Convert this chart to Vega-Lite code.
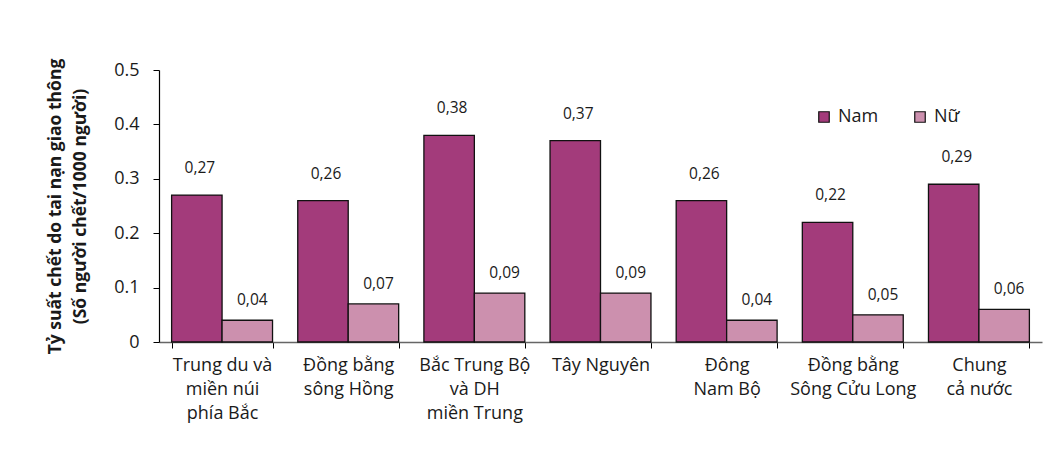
{
  "$schema": "https://vega.github.io/schema/vega-lite/v6.json",
  "autosize": {"type": "none"},
  "width": 883,
  "height": 272,
  "padding": {"left": 159, "top": 70, "right": 10, "bottom": 107},
  "background": "white",
  "config": {
    "view": {"stroke": null},
    "font": "Open Sans",
    "axis": {"labelFont": "Open Sans", "titleFont": "Open Sans", "labelColor": "#1a1a1a", "titleColor": "#1a1a1a"},
    "legend": {"labelFont": "Open Sans"}
  },
  "data": {
    "values": [
      {"region": "Trung du và|miền núi|phía Bắc", "gender": "Nam", "value": 0.27},
      {"region": "Trung du và|miền núi|phía Bắc", "gender": "Nữ", "value": 0.04},
      {"region": "Đồng bằng|sông Hồng", "gender": "Nam", "value": 0.26},
      {"region": "Đồng bằng|sông Hồng", "gender": "Nữ", "value": 0.07},
      {"region": "Bắc Trung Bộ|và DH|miền Trung", "gender": "Nam", "value": 0.38},
      {"region": "Bắc Trung Bộ|và DH|miền Trung", "gender": "Nữ", "value": 0.09},
      {"region": "Tây Nguyên", "gender": "Nam", "value": 0.37},
      {"region": "Tây Nguyên", "gender": "Nữ", "value": 0.09},
      {"region": "Đông|Nam Bộ", "gender": "Nam", "value": 0.26},
      {"region": "Đông|Nam Bộ", "gender": "Nữ", "value": 0.04},
      {"region": "Đồng bằng|Sông Cửu Long", "gender": "Nam", "value": 0.22},
      {"region": "Đồng bằng|Sông Cửu Long", "gender": "Nữ", "value": 0.05},
      {"region": "Chung|cả nước", "gender": "Nam", "value": 0.29},
      {"region": "Chung|cả nước", "gender": "Nữ", "value": 0.06}
    ]
  },
  "transform": [
    {"calculate": "replace(format(datum.value, '.2f'), '.', ',')", "as": "lbl"}
  ],
  "encoding": {
    "x": {
      "field": "region",
      "type": "nominal",
      "sort": null,
      "scale": {"paddingInner": 0.2, "paddingOuter": 0.1},
      "axis": {
        "title": null,
        "labelAngle": 0,
        "labelExpr": "split(datum.label, '|')",
        "labelFontSize": 18,
        "labelLineHeight": 24,
        "labelPadding": 8,
        "labelBaseline": "top",
        "tickBand": "extent",
        "tickSize": 6,
        "tickColor": "#000000",
        "domainColor": "#666666",
        "domainWidth": 1.5
      }
    },
    "xOffset": {"field": "gender", "type": "nominal", "sort": ["Nam", "Nữ"]},
    "y": {
      "field": "value",
      "type": "quantitative",
      "scale": {"domain": [0, 0.5], "nice": false},
      "axis": {
        "values": [0, 0.1, 0.2, 0.3, 0.4, 0.5],
        "labelExpr": "datum.value == 0 ? '0' : format(datum.value, '.1f')",
        "grid": false,
        "labelFontSize": 18,
        "labelPadding": 14,
        "tickSize": 6,
        "tickColor": "#000000",
        "domainColor": "#000000",
        "domainWidth": 1.2,
        "title": ["Tỷ suất chết do tai nạn giao thông", "(Số người chết/1000 người)"],
        "titleFontSize": 17.5,
        "titleFontWeight": "bold",
        "titleLineHeight": 25,
        "titleX": -104,
        "titleY": 136,
        "titleBaseline": "middle",
        "titleAlign": "center",
        "titleAngle": -90
      }
    }
  },
  "layer": [
    {
      "mark": {"type": "bar", "stroke": "#111111", "strokeWidth": 1.3},
      "encoding": {
        "color": {
          "field": "gender",
          "type": "nominal",
          "scale": {"domain": ["Nam", "Nữ"], "range": ["#A33B7B", "#CC90AE"]},
          "legend": {
            "title": null,
            "orient": "none",
            "legendX": 656,
            "legendY": 38,
            "direction": "horizontal",
            "symbolType": "square",
            "symbolSize": 110,
            "symbolStrokeColor": "#111111",
            "symbolStrokeWidth": 1.2,
            "labelFontSize": 18,
            "labelOffset": 5,
            "columnPadding": 32,
            "labelColor": "#1a1a1a"
          }
        }
      }
    },
    {
      "transform": [{"filter": "datum.gender == 'Nam'"}],
      "mark": {"type": "text", "fontSize": 15.5, "dy": -27, "dx": 3, "baseline": "middle", "color": "#1a1a1a"},
      "encoding": {"text": {"field": "lbl"}}
    },
    {
      "transform": [{"filter": "datum.gender == 'Nữ'"}],
      "mark": {"type": "text", "fontSize": 15.5, "dy": -20, "dx": 5, "baseline": "middle", "color": "#1a1a1a"},
      "encoding": {"text": {"field": "lbl"}}
    }
  ]
}
